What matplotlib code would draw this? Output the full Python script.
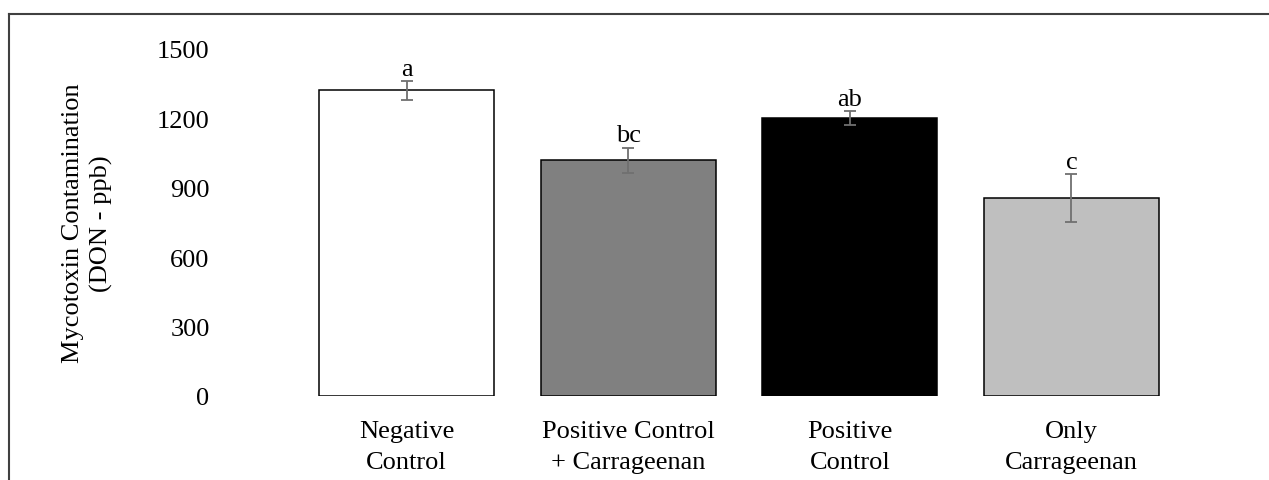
import matplotlib
matplotlib.use("Agg")
import matplotlib.pyplot as plt
from matplotlib.lines import Line2D

categories = ["Negative\nControl", "Positive Control\n+ Carrageenan", "Positive\nControl", "Only\nCarrageenan"]
values = [1321, 1019, 1200, 856]
errors = [41, 55, 30, 104]
letters = ["a", "bc", "ab", "c"]
colors = ["#FFFFFF", "#808080", "#000000", "#BFBFBF"]
yticks = [0, 300, 600, 900, 1200, 1500]

plt.rcParams['font.family'] = ['Liberation Serif', 'DejaVu Serif']
W, H = 1269, 481
fig = plt.figure(figsize=(W/100, H/100), dpi=100)
ax = fig.add_axes([295.7/W, 1-397/H, (1182.3-295.7)/W, (397-50)/H])

x = list(range(len(categories)))
ax.bar(x, values, width=0.79, color=colors, edgecolor="black", linewidth=1.1, zorder=2)
ax.errorbar(x, values, yerr=errors, fmt="none", ecolor="#707070", elinewidth=1.3,
            capsize=4, capthick=1.3, zorder=3)
for xi, v, e, lab in zip(x, values, errors, letters):
    ax.annotate(lab, (xi, v + e), xytext=(0, 1), textcoords="offset points",
                ha="center", va="bottom", fontsize=19)

ax.set_xlim(-0.5, 3.5)
ax.set_ylim(0, 1500)
ax.set_yticks(yticks)
ax.set_yticklabels([str(t) for t in yticks], fontsize=19)
ax.set_xticks(x)
ax.set_xticklabels(categories, fontsize=19, linespacing=1.55)
ax.tick_params(axis="y", length=0, pad=62)
ax.tick_params(axis="x", length=0, pad=17)
for s in ax.spines.values():
    s.set_visible(False)
ax.set_ylabel("Mycotoxin Contamination\n(DON - ppb)", fontsize=19, linespacing=1.35)
ax.yaxis.set_label_coords(-(295.7-113)/(1182.3-295.7), 0.5)

fig.add_artist(Line2D([9/W, 9/W], [0, 1-15/H], transform=fig.transFigure, color="#404040", lw=1.5))
fig.add_artist(Line2D([9/W, 1], [1-15/H, 1-15/H], transform=fig.transFigure, color="#404040", lw=1.5))

fig.savefig("out.png", dpi=100)
